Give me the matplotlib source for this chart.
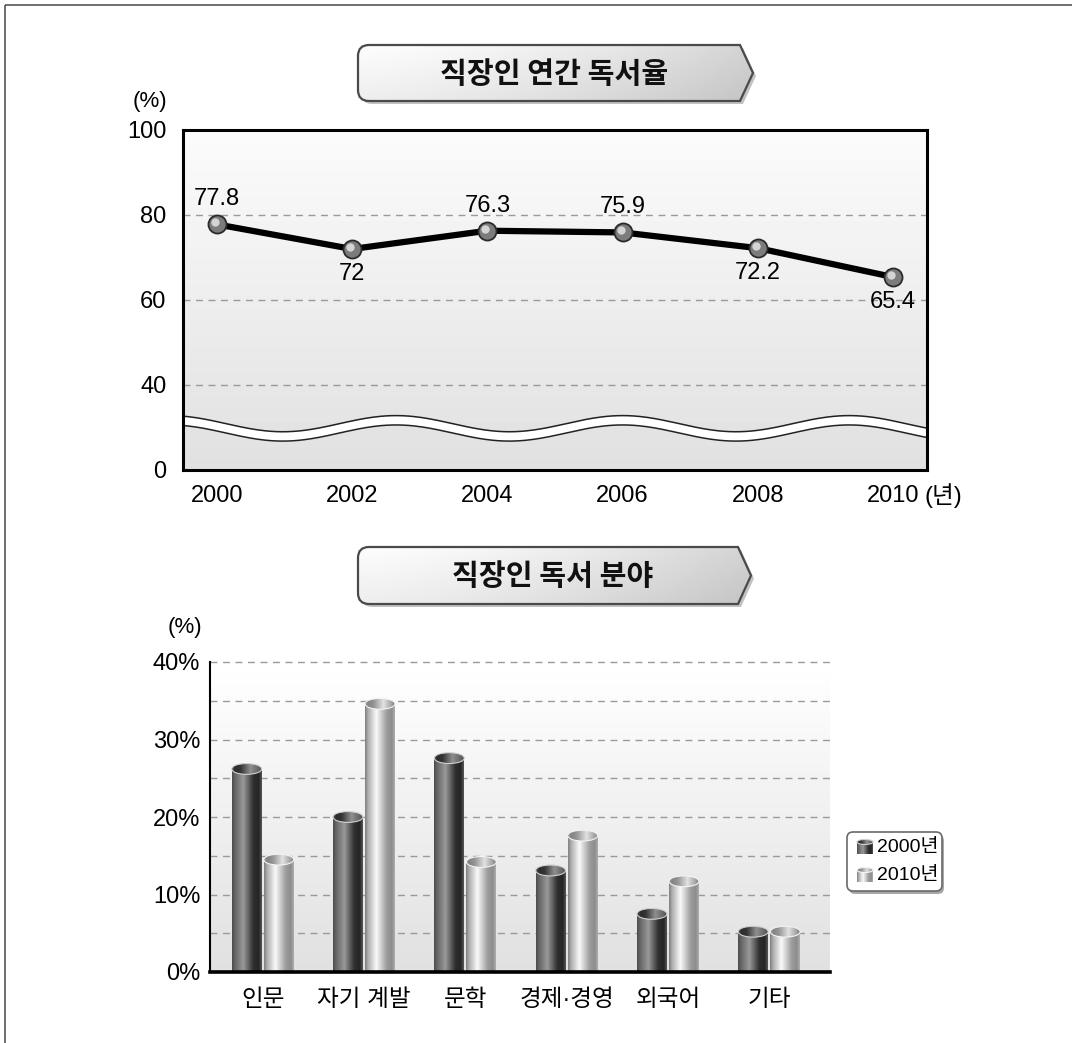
import numpy as np
import matplotlib
matplotlib.use('Agg')
import matplotlib.pyplot as plt
from matplotlib.patches import Ellipse, Rectangle, PathPatch, FancyBboxPatch
from matplotlib.path import Path
from matplotlib import transforms

plt.rcParams['font.family'] = ['Liberation Sans', 'Noto Sans CJK KR', 'DejaVu Sans']
KR = ['Noto Sans CJK KR', 'DejaVu Sans']

W, H = 1072, 1043

# top chart: yearly reading rate of office workers
years = [2000, 2002, 2004, 2006, 2008, 2010]
reading_rate = [77.8, 72, 76.3, 75.9, 72.2, 65.4]
rate_labels = ['77.8', '72', '76.3', '75.9', '72.2', '65.4']
label_side = [1, -1, 1, 1, -1, -1]
rate_ticks = [20, 40, 60, 80, 100]
rate_ticklabels = ['0', '40', '60', '80', '100']

# bottom chart: reading fields
fields = ['인문', '자기 계발', '문학', '경제·경영', '외국어', '기타']
share_2000 = [26.2, 20.0, 27.6, 13.1, 7.5, 5.2]
share_2010 = [14.5, 34.6, 14.2, 17.6, 11.7, 5.2]
series_names = ['2000년', '2010년']

PROF_X = [0, 0.1, 0.38, 0.72, 0.9, 1]
DARK = [0.30, 0.40, 0.60, 0.18, 0.15, 0.34]
LIGHT = [0.50, 0.68, 0.98, 0.62, 0.55, 0.68]


def cylinder(ax, x0, x1, base, top, eh, dark, z=3):
    prof = np.interp(np.linspace(0, 1, 80), PROF_X, DARK if dark else LIGHT)
    ax.imshow(prof[None, :], extent=(x0, x1, base, top), aspect='auto',
              cmap='gray', vmin=0, vmax=1, zorder=z, interpolation='bilinear')
    xc = (x0 + x1) / 2
    ell = Ellipse((xc, top), x1 - x0, eh, facecolor='none', edgecolor='none', zorder=z + 1)
    ax.add_patch(ell)
    cap = ax.imshow((prof[::-1] * 0.85 + 0.05)[None, :],
                    extent=(x0, x1, top - eh / 2, top + eh / 2), aspect='auto',
                    cmap='gray', vmin=0, vmax=1, zorder=z + 1, interpolation='bilinear')
    cap.set_clip_path(ell)
    ax.add_patch(Ellipse((xc, top), x1 - x0, eh, fill=False,
                         edgecolor='#d0d0d0' if dark else '#f4f4f4', lw=0.8, zorder=z + 2))


def title_box(ax, x0, x1, y0, y1, text):
    r, tip = 11, 13
    ym = (y0 + y1) / 2
    verts = [(x0 + r, y0), (x1, y0), (x1 + tip, ym), (x1, y1), (x0 + r, y1),
             (x0, y1), (x0, y1 - r), (x0, y0 + r), (x0, y0), (x0 + r, y0), (x0 + r, y0)]
    codes = [Path.MOVETO, Path.LINETO, Path.LINETO, Path.LINETO, Path.LINETO,
             Path.CURVE3, Path.CURVE3, Path.LINETO, Path.CURVE3, Path.CURVE3, Path.CLOSEPOLY]
    path = Path(verts, codes)
    shadow = Path(np.array(verts) + [3, 3], codes)
    ax.add_patch(PathPatch(shadow, fc='#9a9a9a', ec='none', alpha=0.6, zorder=1))
    body = PathPatch(path, fc='none', ec='none', zorder=2)
    ax.add_patch(body)
    gx = np.linspace(0, 1, 100)
    gy = np.linspace(0, 1, 30)[:, None]
    grad = 0.99 - 0.16 * gx[None, :] ** 1.5 - 0.06 * gy
    img = ax.imshow(grad, extent=(x0, x1 + tip, y1, y0), aspect='auto', cmap='gray',
                    vmin=0, vmax=1, zorder=2, interpolation='bilinear')
    img.set_clip_path(body)
    ax.add_patch(PathPatch(path, fc='none', ec='#4a4a4a', lw=1.6, zorder=3))
    ax.text((x0 + x1) / 2 + 5, ym + 1, text, ha='center', va='center', fontsize=21,
            family=KR, fontweight='bold', color='#111111', zorder=4)


fig = plt.figure(figsize=(W / 100, H / 100), dpi=100)

# decoration layer in pixel coordinates
deco = fig.add_axes([0, 0, 1, 1], zorder=0)
deco.axis('off')
deco.add_patch(Rectangle((5, 5), 1100, 1100, fill=False, ec='#555555', lw=1.2))
title_box(deco, 358, 740, 45, 101, '직장인 연간 독서율')
title_box(deco, 358, 738, 547, 604, '직장인 독서 분야')
deco.text(150, 102, '(%)', ha='center', va='center', fontsize=16)
deco.text(185, 628, '(%)', ha='center', va='center', fontsize=16)

# legend
deco.add_patch(FancyBboxPatch((849, 835), 95, 59, boxstyle='round,pad=0,rounding_size=6',
                              fc='#a8a8a8', ec='none', zorder=1))
deco.add_patch(FancyBboxPatch((847, 832), 95, 59, boxstyle='round,pad=0,rounding_size=6',
                              fc='white', ec='#6a6a6a', lw=1.2, zorder=2))
for i, name in enumerate(series_names):
    yc = 847 + i * 28
    cylinder(deco, 857, 873, yc + 7, yc - 5, 5, i == 0, z=3)
    deco.text(877, yc, name, ha='left', va='center', fontsize=14, zorder=4)
deco.set_xlim(0, W)
deco.set_ylim(H, 0)

# ---- top chart
ax1 = fig.add_axes([183 / W, 1 - 470 / H, (927 - 183) / W, (470 - 130) / H], zorder=2)
bg = np.linspace(0.985, 0.88, 100)[:, None]
ax1.imshow(bg, extent=(1999.5, 2010.5, 20, 100), aspect='auto', cmap='gray',
           vmin=0, vmax=1, zorder=0, interpolation='bilinear')
for g in [40, 60, 80]:
    ax1.axhline(g, color='#9a9a9a', lw=1, dashes=(5, 4), zorder=1)

xw = np.linspace(1999.5, 2010.5, 400)
upper = 30.9 + 1.9 * np.cos(2 * np.pi * (xw - 2006) / 3.35)
lower = upper - 2.2
ax1.fill_between(xw, lower, upper, color='white', zorder=1.5, lw=0)
ax1.plot(xw, upper, color='#222222', lw=1.1, zorder=1.6)
ax1.plot(xw, lower, color='#222222', lw=1.1, zorder=1.6)

ax1.plot(years, reading_rate, color='black', lw=4.5, zorder=3, solid_joinstyle='round')
ax1.plot(years, reading_rate, 'o', ms=13, mfc='#7c7c7c', mec='#2a2a2a', mew=1.3, zorder=4)
hl = transforms.offset_copy(ax1.transData, fig=fig, x=-1.5, y=1.5, units='points')
ax1.plot(years, reading_rate, 'o', ms=6, mfc='#d4d4d4', mec='none', zorder=5, transform=hl)
for x, y, t, s in zip(years, reading_rate, rate_labels, label_side):
    ax1.annotate(t, (x, y), xytext=(0, 18 * s), textcoords='offset points',
                 ha='center', va='center', fontsize=17, zorder=6)

ax1.set_xlim(1999.5, 2010.5)
ax1.set_ylim(20, 100)
ax1.set_xticks(years)
ax1.set_xticklabels([str(y) for y in years])
ax1.set_yticks(rate_ticks)
ax1.set_yticklabels(rate_ticklabels)
ax1.tick_params(length=0, labelsize=17)
ax1.tick_params(axis='y', pad=12)
ax1.tick_params(axis='x', pad=11)
for sp in ax1.spines.values():
    sp.set_linewidth(2.2)
    sp.set_zorder(7)
ax1.text(2010.47, -0.076, '(년)', transform=ax1.get_xaxis_transform(),
         ha='left', va='center', fontsize=17)

# ---- bottom chart
ax2 = fig.add_axes([210 / W, 1 - 972 / H, 620 / W, 310 / H], zorder=2)
bg2 = np.linspace(1.0, 0.88, 100)[:, None]
ax2.imshow(bg2, extent=(-0.52, 5.6, 0, 40), aspect='auto', cmap='gray',
           vmin=0, vmax=1, zorder=0, interpolation='bilinear')
for g in range(5, 45, 5):
    ax2.axhline(g, color='#9a9a9a', lw=1, dashes=(5, 4), zorder=1, clip_on=False)

bw, off = 0.295, 0.158
for i in range(len(fields)):
    cylinder(ax2, i - off - bw / 2, i - off + bw / 2, 0, share_2000[i], 1.4, True)
    cylinder(ax2, i + off - bw / 2, i + off + bw / 2, 0, share_2010[i], 1.4, False)

ax2.set_xlim(-0.52, 5.6)
ax2.set_ylim(0, 40)
ax2.set_xticks(range(len(fields)))
ax2.set_xticklabels(fields)
ax2.set_yticks(range(0, 41, 10))
ax2.set_yticklabels([f'{v}%' for v in range(0, 41, 10)])
ax2.tick_params(length=0, labelsize=17)
ax2.tick_params(axis='y', pad=7)
ax2.tick_params(axis='x', pad=12)
ax2.spines['top'].set_visible(False)
ax2.spines['right'].set_visible(False)
ax2.spines['left'].set_linewidth(1.5)
ax2.spines['bottom'].set_linewidth(2.6)
for sp in ax2.spines.values():
    sp.set_zorder(7)

fig.savefig('out.png', dpi=100)
